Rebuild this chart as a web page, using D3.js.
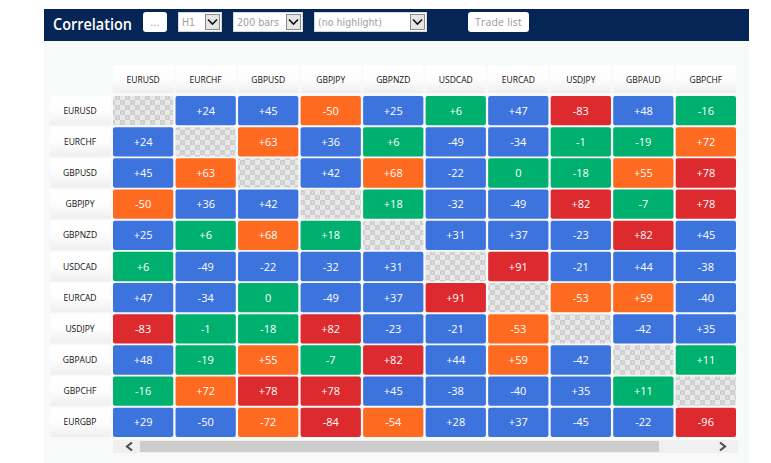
<!DOCTYPE html>
<html>
<head>
<meta charset="utf-8">
<title>Correlation</title>
<script src="https://cdnjs.cloudflare.com/ajax/libs/d3/7.8.5/d3.min.js"></script>
<style>
  body { margin: 0; background: #fff; font-family: "Open Sans", sans-serif; }
</style>
</head>
<body>
<div id="chart-container"></div>
<script>
const symbols = ["EURUSD", "EURCHF", "GBPUSD", "GBPJPY", "GBPNZD", "USDCAD", "EURCAD", "USDJPY", "GBPAUD", "GBPCHF"];
const rowSymbols = symbols.concat(["EURGBP"]);

// the -50s differ in colour in the source so they must sit either side of the band edge
const correlations = [
  [null, 24, 45, -50.4, 25, 6, 47, -83, 48, -16],
  [24, null, 63, 36, 6, -49, -34, -1, -19, 72],
  [45, 63, null, 42, 68, -22, 0, -18, 55, 78],
  [-50.4, 36, 42, null, 18, -32, -49, 82, -7, 78],
  [25, 6, 68, 18, null, 31, 37, -23, 82, 45],
  [6, -49, -22, -32, 31, null, 91, -21, 44, -38],
  [47, -34, 0, -49, 37, 91, null, -53, 59, -40],
  [-83, -1, -18, 82, -23, -21, -53, null, -42, 35],
  [48, -19, 55, -7, 82, 44, 59, -42, null, 11],
  [-16, 72, 78, 78, 45, -38, -40, 35, 11, null],
  [29, -49.8, -72, -84, -54, 28, 37, -45, -22, -96]
];

const colorScale = d3.scaleThreshold()
  .domain([20, 50, 75])
  .range(["#00b06e", "#3d73dd", "#ff6a21", "#dc2a2e"]);

const formatValue = function(value) {
  const rounded = Math.round(value);
  if (rounded === 0) return "0";
  return (rounded > 0 ? "+" : "-") + Math.abs(rounded);
};

const drawSelect = function(svg, x, width, label, labelWidth) {
  svg.append("rect").attr("x", x + 0.5).attr("y", 12.5).attr("width", width - 1).attr("height", 19)
    .attr("fill", "#fff").attr("stroke", "#d4d7dc");
  svg.append("text").attr("x", x + 4).attr("y", 26).attr("font-size", 11)
    .attr("font-family", "'DejaVu Sans', sans-serif")
    .attr("fill", "#a0a0a0").text(label)
    .attr("textLength", labelWidth).attr("lengthAdjust", "spacingAndGlyphs");
  const arrowX = x + width - 16.5;
  svg.append("rect").attr("x", arrowX).attr("y", 14.5).attr("width", 14).attr("height", 15)
    .attr("fill", "#e6e6e6").attr("stroke", "#8a8a8a");
  svg.append("path")
    .attr("d", d3.line()([[arrowX + 2.5, 19.5], [arrowX + 7, 24], [arrowX + 11.5, 19.5]]))
    .attr("fill", "none").attr("stroke", "#111").attr("stroke-width", 1.6);
};

const drawButton = function(svg, x, width, label) {
  svg.append("rect").attr("x", x).attr("y", 12).attr("width", width).attr("height", 20).attr("rx", 3)
    .attr("fill", "#fff");
  svg.append("text").attr("x", x + width / 2).attr("y", 26).attr("font-size", 10.5)
    .attr("text-anchor", "middle").attr("fill", "#999").attr("letter-spacing", 0.2).text(label);
};

const main = function() {
  const svg = d3.select("#chart-container")
    .append("svg")
    .attr("width", 771)
    .attr("height", 463)
    .style("display", "block");

  const defs = svg.append("defs");

  const checker = defs.append("pattern").attr("id", "checker")
    .attr("width", 10).attr("height", 10).attr("patternUnits", "userSpaceOnUse");
  checker.append("rect").attr("width", 10).attr("height", 10).attr("fill", "#e8e8e8");
  checker.append("rect").attr("width", 5).attr("height", 5).attr("fill", "#cfcfcf");
  checker.append("rect").attr("x", 5).attr("y", 5).attr("width", 5).attr("height", 5).attr("fill", "#cfcfcf");
  checker.append("rect").attr("x", 2).attr("y", 2).attr("width", 1).attr("height", 1).attr("fill", "#eeeeee");
  checker.append("rect").attr("x", 7).attr("y", 7).attr("width", 1).attr("height", 1).attr("fill", "#eeeeee");

  const headGrad = defs.append("linearGradient").attr("id", "head-grad").attr("x2", 0).attr("y2", 1);
  headGrad.append("stop").attr("offset", "0%").attr("stop-color", "#ffffff");
  headGrad.append("stop").attr("offset", "50%").attr("stop-color", "#fdfdfd");
  headGrad.append("stop").attr("offset", "100%").attr("stop-color", "#efefef");

  svg.append("rect").attr("x", 44).attr("y", 41).attr("width", 705).attr("height", 422).attr("fill", "#f8f9f9");
  svg.append("rect").attr("x", 44).attr("y", 9).attr("width", 705).attr("height", 32).attr("fill", "#042556");

  svg.append("text").attr("x", 53).attr("y", 30).attr("font-size", 16.5).attr("font-weight", 600)
    .attr("fill", "#fff").attr("textLength", 79).attr("lengthAdjust", "spacingAndGlyphs").text("Correlation");

  drawButton(svg, 143, 24, "...");
  drawSelect(svg, 178, 44, "H1", 13);
  drawSelect(svg, 233, 70, "200 bars", 42);
  drawSelect(svg, 314, 113, "(no highlight)", 64);
  drawButton(svg, 468, 61, "Trade list");

  const x = d3.scaleBand().domain(symbols).range([113, 736]).paddingInner(0.036);
  const y = d3.scaleBand().domain(rowSymbols).range([96, 437]).paddingInner(0.06);

  const columnHeads = svg.selectAll(".col-head").data(symbols).enter().append("g").attr("class", "col-head");
  columnHeads.append("rect")
    .attr("x", d => x(d)).attr("y", 65).attr("width", x.bandwidth()).attr("height", 28)
    .attr("fill", "url(#head-grad)");
  columnHeads.append("text")
    .attr("x", d => x(d) + x.bandwidth() / 2).attr("y", 83)
    .attr("text-anchor", "middle").attr("font-size", 8.5).attr("fill", "#111").text(d => d);

  const rowHeads = svg.selectAll(".row-head").data(rowSymbols).enter().append("g").attr("class", "row-head");
  rowHeads.append("rect")
    .attr("x", 50).attr("y", d => y(d)).attr("width", 61).attr("height", y.bandwidth())
    .attr("fill", "url(#head-grad)");
  rowHeads.append("text")
    .attr("x", 80).attr("y", d => y(d) + y.bandwidth() / 2 + 3)
    .attr("text-anchor", "middle").attr("font-size", 8.5).attr("fill", "#111").text(d => d);

  const cells = correlations.flatMap((values, rowIndex) =>
    values.map((value, colIndex) => ({ row: rowSymbols[rowIndex], col: symbols[colIndex], value: value }))
  );

  svg.selectAll(".cell").data(cells).enter().append("rect")
    .attr("class", "cell")
    .attr("x", d => x(d.col)).attr("y", d => y(d.row))
    .attr("width", x.bandwidth()).attr("height", y.bandwidth())
    .attr("rx", 2)
    .attr("fill", d => d.value === null ? "url(#checker)" : colorScale(Math.abs(d.value)));

  svg.selectAll(".cell-label").data(cells.filter(d => d.value !== null)).enter().append("text")
    .attr("class", "cell-label")
    .attr("x", d => x(d.col) + x.bandwidth() / 2)
    .attr("y", d => y(d.row) + y.bandwidth() / 2 + 4)
    .attr("text-anchor", "middle").attr("font-size", 11).attr("fill", "#fff")
    .text(d => formatValue(d.value));

  // scrollbar
  svg.append("rect").attr("x", 113).attr("y", 440).attr("width", 625).attr("height", 13).attr("fill", "#f0f0f0");
  svg.append("rect").attr("x", 140).attr("y", 441).attr("width", 519).attr("height", 11).attr("fill", "#cdcdcd");
  svg.append("path").attr("d", d3.line()([[132, 442.5], [127, 446.5], [132, 450.5]]))
    .attr("fill", "none").attr("stroke", "#505050").attr("stroke-width", 2.2);
  svg.append("path").attr("d", d3.line()([[720, 442.5], [725, 446.5], [720, 450.5]]))
    .attr("fill", "none").attr("stroke", "#505050").attr("stroke-width", 2.2);
};

window.onload = main;
</script>
</body>
</html>
